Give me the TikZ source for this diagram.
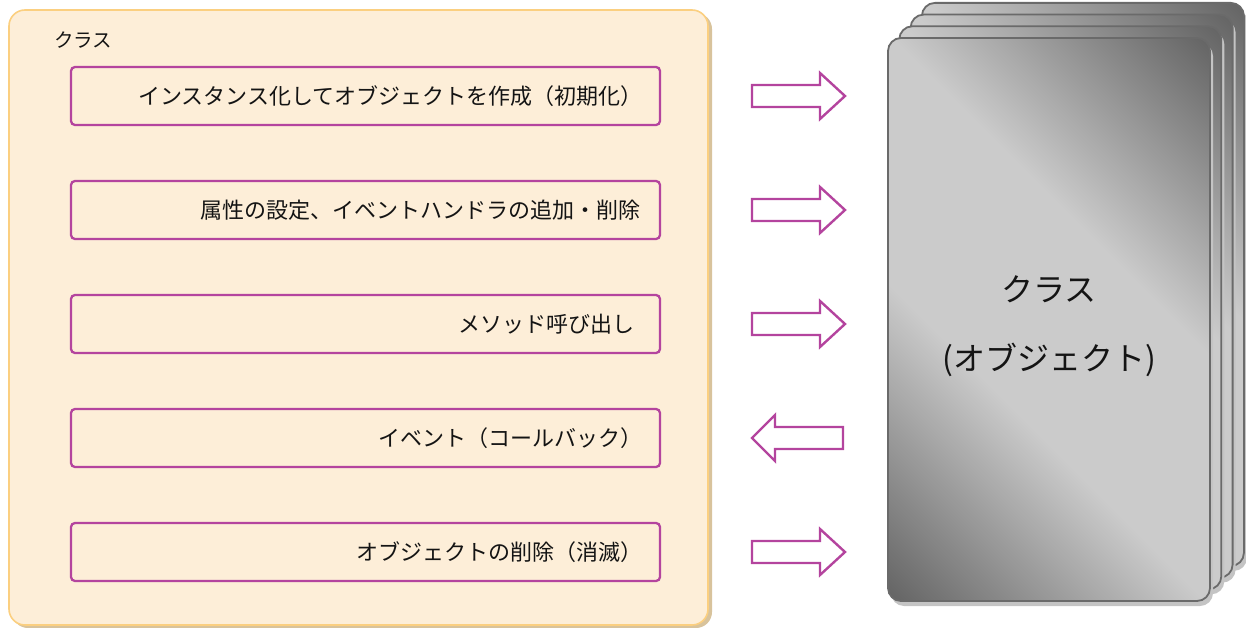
\documentclass[tikz,border=0pt]{standalone}
\usepackage{fontspec}
\setmainfont{Noto Sans CJK JP}
\definecolor{creamfill}{HTML}{FDEED8}
\definecolor{creamline}{HTML}{FBCF80}
\definecolor{creamshadow}{HTML}{D8C39C}
\definecolor{purp}{HTML}{B4449E}
\definecolor{carddark}{HTML}{616161}
\definecolor{cardlight}{HTML}{CBCBCB}
\definecolor{cardedge}{HTML}{6A6A6A}
\definecolor{cardshadow}{HTML}{C4C4C4}
\pgfdeclarehorizontalshading{cardshade}{100bp}{color(0bp)=(carddark); color(14bp)=(carddark); color(40bp)=(cardlight); color(60bp)=(cardlight); color(86bp)=(carddark); color(100bp)=(carddark)}
\tikzset{
  outerbox/.style={draw=creamline, line width=1.6pt, fill=creamfill, rounded corners=16pt},
  itembox/.style={draw=purp, line width=2.3pt, rounded corners=4pt, minimum width=589pt, minimum height=58pt, inner sep=0pt},
  itemtext/.style={font=\fontsize{22}{25}\selectfont, text=black!92, anchor=east, inner sep=0pt},
  blockarrow/.style={draw=purp, line width=2.4pt, fill=white, line join=miter},
  card/.style={draw=cardedge, line width=1.8pt, rounded corners=13pt, shading=cardshade, shading angle=45},
  cardshadowst/.style={fill=cardshadow, rounded corners=13pt},
  bigtext/.style={font=\fontsize{32}{36}\selectfont, text=black!92}
}
\begin{document}
\begin{tikzpicture}[x=1pt,y=-1pt]
\useasboundingbox (0,0) rectangle (1246,628);
% outer class container
\fill[creamshadow, rounded corners=16pt] (12,13) rectangle (712,628);
\draw[outerbox] (9,10) rectangle (708,625);
\node[anchor=west, font=\fontsize{19.5}{22}\selectfont, text=black!92, inner sep=0pt] (lbl) at (54,40) {クラス};
% item boxes
\foreach \c/\nm in {96/b1,210/b2,324/b3,438/b4,552/b5}{
  \node[itembox] (\nm) at (365.5,\c) {};
}
\node[itemtext] (t1) at (643,96) {インスタンス化してオブジェクトを作成（初期化）};
\node[itemtext] (t2) at (641,210) {属性の設定、イベントハンドラの追加・削除};
\node[itemtext] (t3) at (635,324) {メソッド呼び出し};
\node[itemtext] (t4) at (643,438) {イベント（コールバック）};
\node[itemtext] (t5) at (643,552) {オブジェクトの削除（消滅）};
% block arrows
\foreach \c in {96,210,324,552}{
  \draw[blockarrow] (752,\c-11) -- (820,\c-11) -- (820,\c-23) -- (845,\c) -- (820,\c+23) -- (820,\c+11) -- (752,\c+11) -- cycle;
}
\draw[blockarrow] (843,427) -- (775,427) -- (775,415) -- (752,438) -- (775,461) -- (775,449) -- (843,449) -- cycle;
% card stack
\foreach \i in {3,2,1,0}{
  \pgfmathsetmacro{\dx}{11.3*\i}
  \pgfmathsetmacro{\dy}{-11.7*\i}
  \fill[cardshadowst] (888+\dx+3,38+\dy+5) rectangle (1210+\dx+3,601+\dy+5);
  \draw[card] (888+\dx,38+\dy) rectangle (1210+\dx,601+\dy);
}
\node[bigtext] (c1) at (1049,289) {クラス};
\node[bigtext] (c2) at (1049,360) {(オブジェクト)};
\end{tikzpicture}
\end{document}
